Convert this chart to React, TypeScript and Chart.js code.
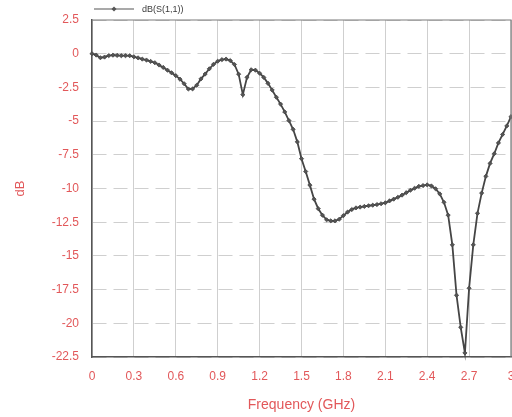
import React, { useEffect, useRef } from "react";
import { Chart, registerables } from "chart.js";

Chart.register(...registerables);

const seriesLabel = "dB(S(1,1))";

const frequencyGHz = [
  0, 0.03, 0.06, 0.09, 0.12, 0.15, 0.18, 0.21, 0.24, 0.27,
  0.3, 0.33, 0.36, 0.39, 0.42, 0.45, 0.48, 0.51, 0.54, 0.57,
  0.6, 0.63, 0.66, 0.69, 0.72, 0.75, 0.78, 0.81, 0.84, 0.87,
  0.9, 0.93, 0.96, 0.99, 1.02, 1.05, 1.08, 1.11, 1.14, 1.17,
  1.2, 1.23, 1.26, 1.29, 1.32, 1.35, 1.38, 1.41, 1.44, 1.47,
  1.5, 1.53, 1.56, 1.59, 1.62, 1.65, 1.68, 1.71, 1.74, 1.77,
  1.8, 1.83, 1.86, 1.89, 1.92, 1.95, 1.98, 2.01, 2.04, 2.07,
  2.1, 2.13, 2.16, 2.19, 2.22, 2.25, 2.28, 2.31, 2.34, 2.37,
  2.4, 2.43, 2.46, 2.49, 2.52, 2.55, 2.58, 2.61, 2.64, 2.67,
  2.7, 2.73, 2.76, 2.79, 2.82, 2.85, 2.88, 2.91, 2.94, 2.97,
  3.0,
];

const s11dB = [
  0, -0.1, -0.3, -0.25, -0.14, -0.11, -0.13, -0.15, -0.15, -0.15,
  -0.23, -0.31, -0.4, -0.47, -0.57, -0.67, -0.84, -1.02, -1.22, -1.42,
  -1.63, -1.89, -2.23, -2.62, -2.61, -2.34, -1.87, -1.51, -1.12, -0.79,
  -0.56, -0.44, -0.4, -0.51, -0.8, -1.52, -3.04, -1.75, -1.19, -1.22,
  -1.45, -1.76, -2.2, -2.7, -3.23, -3.74, -4.32, -4.96, -5.61, -6.54,
  -7.79, -8.74, -9.75, -10.79, -11.5, -11.98, -12.32, -12.4, -12.4, -12.28,
  -12.01, -11.75, -11.56, -11.44, -11.38, -11.33, -11.28, -11.24, -11.19, -11.13,
  -11.06, -10.92, -10.79, -10.65, -10.49, -10.31, -10.13, -9.98, -9.84, -9.78,
  -9.73, -9.81, -10.02, -10.4, -11.02, -11.98, -14.18, -17.92, -20.3, -22.2,
  -17.4, -14.18, -11.84, -10.34, -9.1, -8.14, -7.42, -6.62, -5.99, -5.36,
  -4.67,
];

const xTickValues = [0, 0.3, 0.6, 0.9, 1.2, 1.5, 1.8, 2.1, 2.4, 2.7, 3];
const xTickLabels = ["0", "0.3", "0.6", "0.9", "1.2", "1.5", "1.8", "2.1", "2.4", "2.7", "3"];
const yTickValues = [-22.5, -20, -17.5, -15, -12.5, -10, -7.5, -5, -2.5, 0, 2.5];
const yTickLabels = ["-22.5", "-20", "-17.5", "-15", "-12.5", "-10", "-7.5", "-5", "-2.5", "0", "2.5"];

const RED = "#e2585a";
const FONT = "'Liberation Sans Narrow', 'Liberation Sans', Arial, sans-serif";

const zeroPadding = () => ({ left: 0, top: 0, right: 0, bottom: 0 });

const framePlugin = {
  id: "framePlugin",
  afterDraw(chart: any) {
    const { ctx, chartArea } = chart;
    const { left, right, top, bottom } = chartArea;
    ctx.save();
    ctx.strokeStyle = "#7a7a7a";
    ctx.lineWidth = 1.2;
    ctx.beginPath();
    ctx.moveTo(left, top);
    ctx.lineTo(right, top);
    ctx.lineTo(right, bottom);
    ctx.stroke();

    // legend
    const ly = 9;
    ctx.strokeStyle = "#555";
    ctx.lineWidth = 1.2;
    ctx.beginPath();
    ctx.moveTo(94, ly);
    ctx.lineTo(134, ly);
    ctx.stroke();
    ctx.fillStyle = "#555";
    ctx.beginPath();
    ctx.moveTo(114, ly - 2.5);
    ctx.lineTo(116.5, ly);
    ctx.lineTo(114, ly + 2.5);
    ctx.lineTo(111.5, ly);
    ctx.closePath();
    ctx.fill();
    ctx.fillStyle = "#3a3a3a";
    ctx.font = `9px ${FONT}`;
    ctx.textBaseline = "middle";
    ctx.textAlign = "left";
    ctx.fillText(chart.data.datasets[0].label, 142, ly + 0.5);
    ctx.restore();
  },
};

export default function App() {
  const canvasRef = useRef<HTMLCanvasElement | null>(null);

  useEffect(() => {
    if (!canvasRef.current) return;
    const points = frequencyGHz.map((f, i) => ({ x: f, y: s11dB[i] }));
    const chart = new Chart(canvasRef.current, {
      type: "line",
      data: {
        datasets: [
          {
            label: seriesLabel,
            data: points,
            borderColor: "#454545",
            borderWidth: 1.8,
            pointStyle: "rectRot",
            pointRadius: 2.1,
            pointBackgroundColor: "#555",
            pointBorderColor: "#444",
            pointBorderWidth: 0.8,
            tension: 0,
            fill: false,
            clip: 4,
          },
        ],
      },
      options: {
        animation: false,
        responsive: false,
        devicePixelRatio: 1,
        layout: { autoPadding: false, padding: { top: 20, right: 1, left: 0, bottom: 0 } },
        plugins: {
          legend: { display: false },
          tooltip: { enabled: false },
        },
        scales: {
          x: {
            type: "linear",
            min: 0,
            max: 3,
            afterBuildTicks: (s: any) => {
              s.ticks = xTickValues.map((v) => ({ value: v }));
            },
            afterFit: (s: any) => {
              s.height = 60;
              s.paddingLeft = 0;
              s.paddingRight = 0;
              s.getPadding = zeroPadding;
            },
            ticks: {
              callback: (v: any) => xTickLabels[xTickValues.indexOf(Number(v))] ?? "",
              color: RED,
              font: { family: FONT, size: 12 },
              padding: 12,
              maxRotation: 0,
              autoSkip: false,
            },
            grid: { color: "#cfcfcf", lineWidth: 1, drawTicks: false },
            border: { color: "#555", width: 1.5 },
            title: {
              display: true,
              text: "Frequency (GHz)",
              color: RED,
              font: { family: FONT, size: 14 },
              padding: { top: 0, bottom: 3 },
            },
          },
          y: {
            type: "linear",
            min: -22.5,
            max: 2.5,
            afterBuildTicks: (s: any) => {
              s.ticks = yTickValues.map((v) => ({ value: v }));
            },
            afterFit: (s: any) => {
              s.width = 92;
              s.paddingTop = 0;
              s.paddingBottom = 0;
              s.getPadding = zeroPadding;
            },
            ticks: {
              callback: (v: any) => yTickLabels[yTickValues.indexOf(Number(v))] ?? "",
              color: RED,
              font: { family: FONT, size: 12 },
              padding: 13,
              autoSkip: false,
            },
            grid: { color: "#cfcfcf", lineWidth: 1, drawTicks: false },
            border: { color: "#555", width: 1.5, dash: [14, 7] },
            title: {
              display: true,
              text: "dB",
              color: RED,
              font: { family: FONT, size: 13 },
              padding: { top: 13, bottom: 0 },
            },
          },
        },
      },
      plugins: [framePlugin],
    } as any);
    return () => chart.destroy();
  }, []);

  return (
    <div style={{ position: "absolute", left: 0, top: 0, width: 512, height: 417, background: "#fff" }}>
      <canvas ref={canvasRef} width={512} height={417} style={{ display: "block", width: 512, height: 417 }} />
    </div>
  );
}
